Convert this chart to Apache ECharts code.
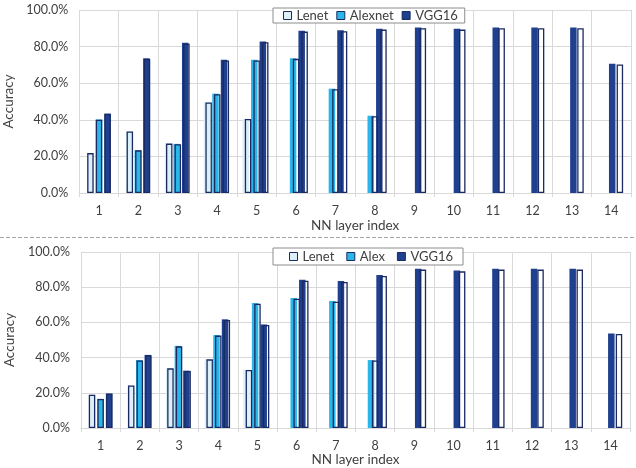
<!DOCTYPE html>
<html>
<head>
<meta charset="utf-8">
<script src="https://cdn.jsdelivr.net/npm/echarts@6/dist/echarts.min.js"></script>
<style>html,body{margin:0;padding:0;background:#fff}#c{width:636px;height:468px}</style>
</head>
<body>
<div id="c"></div>
<script>
// ---- data (accuracy, %) ----
const categories = ['1','2','3','4','5','6','7','8','9','10','11','12','13','14'];
const topLenet   = [21.8, 33.6, 27.0, 49.5, 40.4, null, null, null, null, null, null, null, null, null];
const topAlexnet = [40.0, 23.3, 26.7, 54.0, 72.4, 73.3, 56.7, 42.0, null, null, null, null, null, null];
const topVGG16   = [43.2, 73.2, 81.6, 72.4, 82.4, 88.2, 88.4, 89.3, 90.0, 89.3, 90.0, 90.0, 90.0, 70.2];
const botLenet   = [18.9, 24.2, 33.9, 39.0, 33.0, null, null, null, null, null, null, null, null, null];
const botAlex    = [16.5, 38.4, 46.4, 52.5, 70.6, 73.5, 71.8, 38.4, null, null, null, null, null, null];
const botVGG16   = [19.5, 41.3, 32.4, 61.4, 58.5, 83.7, 83.0, 86.4, 90.0, 89.0, 90.0, 90.0, 90.0, 53.4];
const yMin = 0, yMax = 100, yStep = 20;
const topNames = ['Lenet', 'Alexnet', 'VGG16'];
const botNames = ['Lenet', 'Alex', 'VGG16'];

// ---- styles ----
const colors = ['#dcf0fa', '#2bb6ea', '#1f3f8f'];
const outlineColor = '#1b2a60';
const gridColor = '#d9d9d9';
const textColor = '#404040';
const FONT = 'Lato, "Open Sans", sans-serif';

// fill layer is drawn slightly compressed horizontally relative to the outline layer
const S = 0.985, A = 100;
function mainGrid(left, width, top, height) {
  return {left, width, top, height, containLabel: false, outerBoundsMode: 'none'};
}
function fillGrid(g) {
  return {left: A + S * (g.left - A), width: S * g.width, top: g.top - 1, height: g.height + 1,
    containLabel: false, outerBoundsMode: 'none'};
}

const gTop = mainGrid(79.3, 551.7, 10, 183);
const gBot = mainGrid(81, 549, 252, 176);
const grids = [gTop, fillGrid(gTop), gBot, fillGrid(gBot)];

function visX(gi) {
  return {
    type: 'category', gridIndex: gi, data: categories,
    axisLine: {show: true, lineStyle: {color: gridColor, width: 1}},
    axisTick: {show: true, length: 4, lineStyle: {color: gridColor}},
    splitLine: {show: true, lineStyle: {color: gridColor, width: 1}},
    axisLabel: {color: textColor, fontFamily: FONT, fontSize: 12.5, margin: 11},
    name: 'NN layer index', nameLocation: 'middle', nameGap: gi === 0 ? 26 : 23,
    nameTextStyle: {color: textColor, fontFamily: FONT, fontSize: 13.5}
  };
}
function hidX(gi) { return {type: 'category', gridIndex: gi, data: categories, show: false}; }
function visY(gi) {
  return {
    type: 'value', gridIndex: gi, min: yMin, max: yMax, interval: yStep,
    axisLine: {show: false}, axisTick: {show: false},
    splitLine: {show: true, lineStyle: {color: gridColor, width: 1}},
    axisLabel: {color: textColor, fontFamily: FONT, fontSize: 12.5, margin: 11,
      formatter: v => v.toFixed(1) + '%'},
    name: 'Accuracy', nameLocation: 'middle', nameGap: 57, nameRotate: 90,
    nameTextStyle: {color: textColor, fontFamily: FONT, fontSize: 13.5}
  };
}
function hidY(gi) { return {type: 'value', gridIndex: gi, min: yMin, max: yMax, show: false}; }

const BW = 6.5, GAP = '32%';
function fillSeries(name, data, color, ax) {
  return {type: 'bar', name, data, xAxisIndex: ax, yAxisIndex: ax, barWidth: BW, barGap: GAP,
    z: 2, itemStyle: {color, borderWidth: 0}, emphasis: {disabled: true}, animation: false};
}
function lineSeries(name, data, ax) {
  return {type: 'bar', name, data, xAxisIndex: ax, yAxisIndex: ax, barWidth: BW, barGap: GAP,
    z: 3, itemStyle: {color: 'rgba(255,255,255,0)', borderColor: outlineColor, borderWidth: 1.3},
    emphasis: {disabled: true}, animation: false};
}

const topData = [topLenet, topAlexnet, topVGG16];
const botData = [botLenet, botAlex, botVGG16];
const series = [];
topData.forEach((d, i) => series.push(fillSeries(topNames[i], d, colors[i], 1)));
botData.forEach((d, i) => series.push(fillSeries(botNames[i], d, colors[i], 3)));
topData.forEach((d, i) => series.push(lineSeries(topNames[i], d, 0)));
botData.forEach((d, i) => series.push(lineSeries(botNames[i], d, 2)));

function legend(names, top, pad, gap, lh) {
  return {
    top, left: 273, orient: 'horizontal', icon: 'rect', itemWidth: 8, itemHeight: 8, itemGap: gap,
    padding: pad, backgroundColor: '#fff', borderColor: '#8c8c8c', borderWidth: 1,
    textStyle: {color: textColor, fontFamily: FONT, fontSize: 13, lineHeight: lh},
    data: names.map((n, i) => ({name: n, itemStyle: {color: colors[i], borderColor: outlineColor, borderWidth: 1}})),
    z: 10, selectedMode: false
  };
}

const chart = echarts.init(document.getElementById('c'), null, {renderer: 'canvas'});
chart.setOption({
  animation: false,
  backgroundColor: '#fff',
  grid: grids,
  xAxis: [visX(0), hidX(1), visX(2), hidX(3)],
  yAxis: [visY(0), hidY(1), visY(2), hidY(3)],
  legend: [legend(topNames, 8, [0, 7, 0, 10], 8, 15), legend(botNames, 248, [1, 10, 1, 16], 12, 15)],
  series,
  graphic: [{
    type: 'line', shape: {x1: 0, y1: 237.5, x2: 636, y2: 237.5},
    style: {stroke: '#a6a6a6', lineWidth: 1, lineDash: [4, 2]}, silent: true
  }]
});
</script>
</body>
</html>
